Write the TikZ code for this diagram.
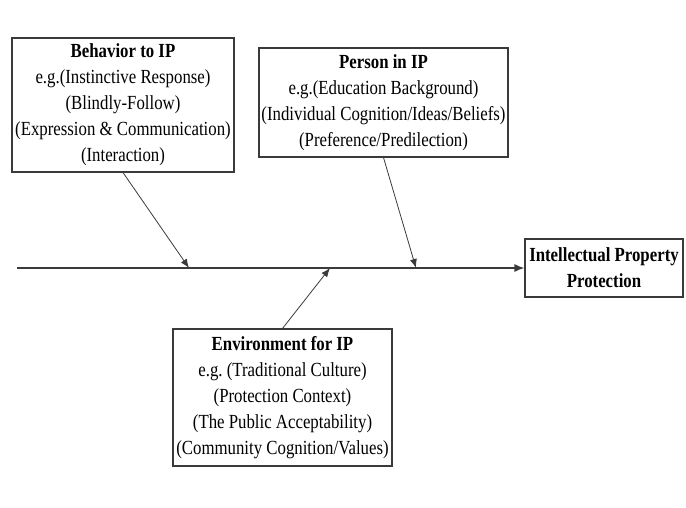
\documentclass[tikz,border=0pt]{standalone}
\usepackage{fontspec}
\setmainfont{Liberation Serif}[FakeStretch=0.84]
\usetikzlibrary{arrows.meta}
\definecolor{inkgray}{HTML}{3A3A3A}
\begin{document}
\begin{tikzpicture}[x=1pt,y=1pt,
  factor/.style={draw=inkgray, line width=1.1pt, fill=white, align=center,
    inner sep=0pt, font=\fontsize{20}{26}\selectfont, text=black},
  feeder/.style={draw=inkgray, line width=0.8pt, -{Latex[length=9pt,width=7pt]}},
  spine/.style={draw=inkgray, line width=1.3pt, -{Latex[length=10pt,width=8pt]}}]
\useasboundingbox (0,0) rectangle (686,-507);

\node[factor, minimum width=222, minimum height=134] (behavior) at (123,-105)
  {\textbf{Behavior to IP}\\e.g.(Instinctive Response)\\(Blindly-Follow)\\(Expression \& Communication)\\(Interaction)};
\node[factor, minimum width=249, minimum height=109] (person) at (383.5,-102.5)
  {\textbf{Person in IP}\\e.g.(Education Background)\\(Individual Cognition/Ideas/Beliefs)\\(Preference/Predilection)};
\node[factor, minimum width=219, minimum height=137] (environment) at (282.5,-397.5)
  {\textbf{Environment for IP}\\e.g.\ (Traditional Culture)\\(Protection Context)\\(The Public Acceptability)\\(Community Cognition/Values)};
\node[factor, minimum width=158, minimum height=58] (ipp) at (604,-268)
  {\textbf{Intellectual Property}\\\textbf{Protection}};

\coordinate (tail) at (17,-268);
\coordinate (jb) at (189,-268);
\coordinate (je) at (330,-268);
\coordinate (jp) at (416,-268);

\draw[spine] (tail) -- (ipp.west);
\draw[feeder] (behavior.south) -- (jb);
\draw[feeder] (person.south) -- (jp);
\draw[feeder] (environment.north) -- (je);
\end{tikzpicture}
\end{document}
